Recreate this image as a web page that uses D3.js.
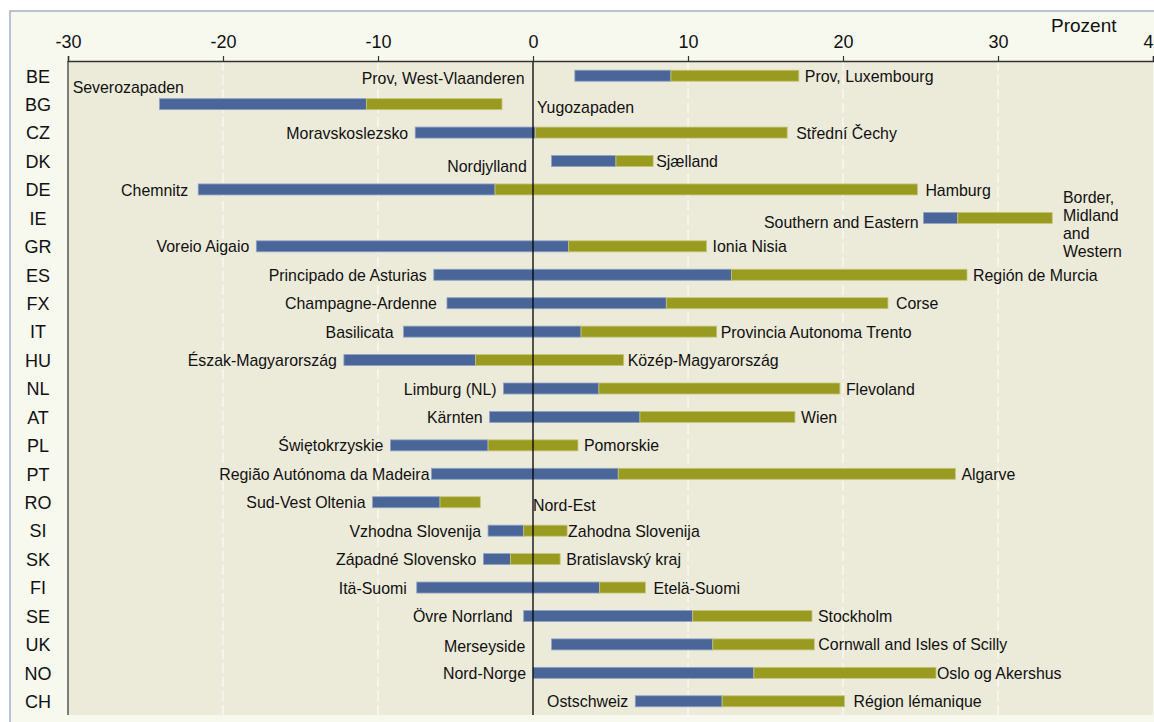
<!DOCTYPE html>
<html><head><meta charset="utf-8">
<script src="https://cdn.jsdelivr.net/npm/d3@7"></script>
<style>
html,body{margin:0;padding:0;background:#fff;}
svg text{font-family:"Liberation Sans",Arial,sans-serif;fill:#111;}
</style></head>
<body>
<svg id="c" width="1154" height="722"></svg>
<script>
const countries = ["BE","BG","CZ","DK","DE","IE","GR","ES","FX","IT","HU","NL","AT","PL","PT","RO","SI","SK","FI","SE","UK","NO","CH"];
const minValues = [2.7,-24.1,-7.6,1.2,-21.6,25.2,-17.85,-6.4,-5.55,-8.35,-12.2,-1.9,-2.8,-9.2,-6.55,-10.35,-2.9,-3.2,-7.5,-0.6,1.2,0.0,6.6];
const natValues = [8.9,-10.75,0.15,5.35,-2.45,27.4,2.3,12.8,8.6,3.1,-3.7,4.25,6.9,-2.9,5.5,-6.0,-0.6,-1.45,4.3,10.3,11.6,14.25,12.2];
const maxValues = [17.15,-2.0,16.4,7.75,24.8,33.5,11.2,28.0,22.9,11.85,5.85,19.8,16.9,2.9,27.25,-3.4,2.2,1.75,7.25,18.0,18.15,26.0,20.1];
const minRegions = ["Prov, West-Vlaanderen","Severozapaden","Moravskoslezsko","Nordjylland","Chemnitz","Southern and Eastern","Voreio Aigaio","Principado de Asturias","Champagne-Ardenne","Basilicata","Észak-Magyarország","Limburg (NL)","Kärnten","Świętokrzyskie","Região Autónoma da Madeira","Sud-Vest Oltenia","Vzhodna Slovenija","Západné Slovensko","Itä-Suomi","Övre Norrland","Merseyside","Nord-Norge","Ostschweiz"];
const maxRegions = ["Prov, Luxembourg","Yugozapaden","Střední Čechy","Sjælland","Hamburg",["Border,","Midland","and","Western"],"Ionia Nisia","Región de Murcia","Corse","Provincia Autonoma Trento","Közép-Magyarország","Flevoland","Wien","Pomorskie","Algarve","Nord-Est","Zahodna Slovenija","Bratislavský kraj","Etelä-Suomi","Stockholm","Cornwall and Isles of Scilly","Oslo og Akershus","Région lémanique"];
const tickValues = [-30,-20,-10,0,10,20,30,40];
const unitLabel = "Prozent";

// label placement tweaks (layout only)
const leftPlace = {
  BE:{at:-0.55, dy:2}, BG:{at:-29.7, anchor:"start", dy:-17.5}, DK:{at:-0.4, dy:4.5},
  IE:{gap:5, dy:4}, UK:{at:-0.5, dy:2}, PT:{gap:2}, CH:{gap:7}, DE:{gap:10}, FX:{gap:10}, IT:{gap:10}, FI:{gap:10}, SE:{gap:11}
};
const rightPlace = {
  BG:{at:0.25, dy:3}, RO:{at:0.0, dy:2.5}, NO:{gap:1}, SI:{gap:1}, DK:{gap:3}, UK:{gap:4}, IT:{gap:4}, HU:{gap:4}, CH:{gap:9}, FI:{gap:8}, DE:{gap:8}, FX:{gap:8}, CZ:{gap:9}
};

const svg = d3.select("#c");
const W = 1154, H = 722;
const plot = {left:68, right:1153, top:61, bottom:715};

// outer frame
svg.append("rect").attr("x",10).attr("y",11).attr("width",W+20).attr("height",H+20)
  .attr("fill","#f7f8ee").attr("stroke","#a3b1cc").attr("stroke-width",1.5);
svg.append("rect").attr("x",plot.left).attr("y",plot.top).attr("width",plot.right-plot.left).attr("height",plot.bottom-plot.top)
  .attr("fill","#ecead9");

const x = d3.scaleLinear().domain([-30,40]).range([plot.left, plot.right]);
const y = d3.scaleBand().domain(countries).range([plot.top, plot.bottom]);

// grid
svg.append("g").selectAll("line").data(tickValues.filter(v=>v!==0 && v!==-30 && v!==40)).join("line")
  .attr("x1",d=>x(d)).attr("x2",d=>x(d)).attr("y1",plot.top).attr("y2",plot.bottom)
  .attr("stroke","#ffffff").attr("stroke-width",1).attr("stroke-dasharray","10,4");

const rows = countries.map((c,i)=>({c, mn:minValues[i], nat:natValues[i], mx:maxValues[i], lr:minRegions[i], rr:maxRegions[i]}));
const bh = 11;
const g = svg.append("g");
g.selectAll("rect.lo").data(rows).join("rect").attr("class","lo")
  .attr("x",d=>x(d.mn)).attr("width",d=>x(d.nat)-x(d.mn))
  .attr("y",d=>y(d.c)+y.bandwidth()/2-bh/2+0.5).attr("height",bh)
  .attr("fill","#4a6699").attr("stroke","#8ea2c8").attr("stroke-width",0.8);
g.selectAll("rect.hi").data(rows).join("rect").attr("class","hi")
  .attr("x",d=>x(d.nat)).attr("width",d=>x(d.mx)-x(d.nat))
  .attr("y",d=>y(d.c)+y.bandwidth()/2-bh/2+0.5).attr("height",bh)
  .attr("fill","#999a20").attr("stroke","#c6c67a").attr("stroke-width",0.8);

// zero line and left axis line
svg.append("line").attr("x1",x(0)).attr("x2",x(0)).attr("y1",plot.top).attr("y2",plot.bottom)
  .attr("stroke","#000").attr("stroke-width",1.3);
svg.append("line").attr("x1",plot.left).attr("x2",plot.left).attr("y1",plot.top).attr("y2",plot.bottom)
  .attr("stroke","#555").attr("stroke-width",1.5);

// top axis
const ax = svg.append("g").attr("transform",`translate(0,${plot.top})`)
  .call(d3.axisTop(x).tickValues(tickValues).tickSize(5).tickSizeOuter(5).tickPadding(8).tickFormat(d3.format("d")));
ax.select(".domain").attr("stroke","#333").attr("stroke-width",1.5);
ax.selectAll(".tick line").attr("stroke","#333").attr("stroke-width",1.2);
ax.selectAll(".tick text").attr("font-size",18).attr("fill","#111").style("font-family","'Liberation Sans',Arial,sans-serif");
ax.selectAll(".tick text").text(d=>d<0 ? "-"+Math.abs(d) : d);

svg.append("text").attr("x",1051).attr("y",32).attr("font-size",19).text(unitLabel);

// country labels
svg.append("g").selectAll("text").data(countries).join("text")
  .attr("x",38).attr("y",d=>y(d)+y.bandwidth()/2+1).attr("dy","0.35em")
  .attr("text-anchor","middle").attr("font-size",18).text(d=>d);

// region labels
const fs = 15.9;
const lg = svg.append("g").attr("font-size",fs);
rows.forEach(d=>{
  const cy = y(d.c)+y.bandwidth()/2+1;
  const lp = leftPlace[d.c] || {};
  const lx = lp.at!==undefined ? x(lp.at) : x(d.mn)-(lp.gap!==undefined?lp.gap:7);
  lg.append("text").attr("x",lx).attr("y",cy+(lp.dy||0)).attr("dy","0.35em")
    .attr("text-anchor",lp.anchor||"end").text(d.lr);
  const rp = rightPlace[d.c] || {};
  const rx = rp.at!==undefined ? x(rp.at) : x(d.mx)+(rp.gap!==undefined?rp.gap:6);
  if(Array.isArray(d.rr)){
    const t = lg.append("text").attr("x",1063).attr("y",cy-21).attr("text-anchor","start");
    d.rr.forEach((s,k)=>t.append("tspan").attr("x",1063).attr("y",cy-21+k*18).attr("dy","0.35em").text(s));
  } else {
    lg.append("text").attr("x",rx).attr("y",cy+(rp.dy||0)).attr("dy","0.35em")
      .attr("text-anchor","start").text(d.rr);
  }
});
</script>
</body></html>
